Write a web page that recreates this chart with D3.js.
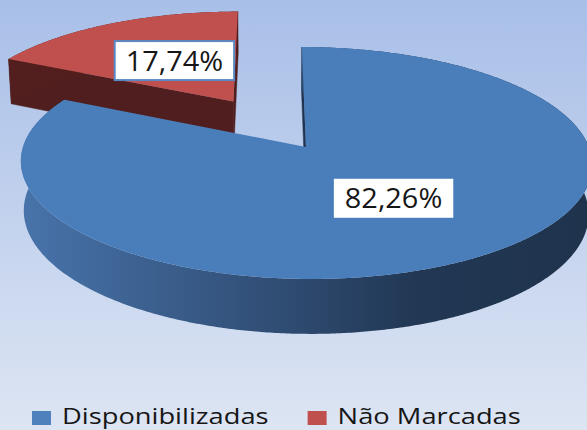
<!DOCTYPE html>
<html>
<head>
<meta charset="utf-8">
<script src="https://cdn.jsdelivr.net/npm/d3@7"></script>
<style>
  body { margin: 0; }
  svg { display: block; }
  text { font-family: "Open Sans", "DejaVu Sans", sans-serif; fill: #161616; }
</style>
</head>
<body>
<script>
const categories = ["Disponibilizadas", "Não Marcadas"];
const values = [82.26, 17.74];
const explode = [0, 0.5];
const topColors = ["#4a7ebb", "#c0504d"];
const legendColors = ["#4f81bd", "#c0504d"];

const W = 587, H = 430;

// simple perspective camera for the 3d pie (radius = 1)
const cam = { cx: 272, cy: 147, f: 1879, D: 6.64, sin: 0.402, cos: 0.916, off: -0.12 };
const thick = 0.191;

function proj(x, z, h) {
  const v = z * cam.sin - h * cam.cos;
  const d = cam.D - z * cam.cos - h * cam.sin;
  return [cam.cx + cam.f * (x - cam.off) / d, cam.cy + cam.f * v / d];
}

const fmt = v => d3.format(".2f")(v).replace(".", ",") + "%";

const svg = d3.select("body").append("svg")
  .attr("width", W)
  .attr("height", H);

const defs = svg.append("defs");
const bg = defs.append("linearGradient").attr("id", "bg")
  .attr("x1", 0).attr("y1", 0).attr("x2", 0).attr("y2", 1);
bg.append("stop").attr("offset", 0).attr("stop-color", "#a8bfe8");
bg.append("stop").attr("offset", 1).attr("stop-color", "#dde5f3");

const wallBlue = defs.append("linearGradient").attr("id", "wall0")
  .attr("gradientUnits", "userSpaceOnUse")
  .attr("x1", 20).attr("y1", 0).attr("x2", 590).attr("y2", 0);
[[0, "#4874ab"], [0.45, "#304d74"], [0.7, "#213753"], [1, "#1f334d"]].forEach(s =>
  wallBlue.append("stop").attr("offset", s[0]).attr("stop-color", s[1]));

const wallRed = defs.append("linearGradient").attr("id", "wall1")
  .attr("gradientUnits", "userSpaceOnUse")
  .attr("x1", 0).attr("y1", 0).attr("x2", 590).attr("y2", 0);
[[0, "#521f1e"], [1, "#4a1b1a"]].forEach(s =>
  wallRed.append("stop").attr("offset", s[0]).attr("stop-color", s[1]));

const faceColors = ["#1f344f", "#501e1e"];

svg.append("rect").attr("width", W).attr("height", H).attr("fill", "url(#bg)");

const arcs = d3.pie().sort(null).value(d => d)(values);
arcs.forEach(a => {
  const mid = (a.startAngle + a.endAngle) / 2;
  a.ox = explode[a.index] * Math.sin(mid);
  a.oz = -explode[a.index] * Math.cos(mid);
  a.mid = mid;
});

const line = d3.line();
const camX = cam.off, camZ = cam.D * cam.cos;

// back slices first
const order = arcs.slice().sort((a, b) => a.oz - b.oz);
const g = svg.append("g");

order.forEach(a => {
  const i = a.index;
  const rim = (t, h) => proj(a.ox + Math.sin(t), a.oz - Math.cos(t), h);
  const apex = h => proj(a.ox, a.oz, h);
  const n = Math.ceil((a.endAngle - a.startAngle) / (Math.PI / 360)) + 1;
  const ts = d3.range(n).map(k => a.startAngle + (a.endAngle - a.startAngle) * k / (n - 1));

  // cut faces
  [[a.startAngle, -1], [a.endAngle, 1]].forEach(([t, s]) => {
    const nx = s * Math.cos(t), nz = s * Math.sin(t);
    if ((camX - a.ox) * nx + (camZ - a.oz) * nz > 0) {
      g.append("path")
        .attr("d", line([apex(0), rim(t, 0), rim(t, -thick), apex(-thick)]) + "Z")
        .attr("fill", faceColors[i])
        .attr("stroke", faceColors[i]).attr("stroke-width", 0.5);
    }
  });

  // outer wall
  const wall = ts.map(t => rim(t, 0)).concat(ts.slice().reverse().map(t => rim(t, -thick)));
  g.append("path")
    .attr("d", line(wall) + "Z")
    .attr("fill", "url(#wall" + i + ")");

  // top
  g.append("path")
    .attr("d", line([apex(0)].concat(ts.map(t => rim(t, 0)))) + "Z")
    .attr("fill", topColors[i]);
});

// data labels (text is a bit stretched sideways in the original)
const labelStretch = 1.07;
arcs.forEach(a => {
  const p = proj(a.ox + 0.5 * Math.sin(a.mid), a.oz - 0.5 * Math.cos(a.mid), 0);
  const x = p[0] + 6, y = p[1];
  const lg = svg.append("g");
  const box = lg.append("rect");
  const t = lg.append("text")
    .attr("text-anchor", "middle")
    .attr("font-size", "27px")
    .attr("transform", "translate(" + x + "," + (y + 10) + ") scale(" + labelStretch + ",1)")
    .text(fmt(a.data));
  const w = t.node().getComputedTextLength() * labelStretch + 22;
  box.attr("x", x - w / 2).attr("y", y - 19.5)
    .attr("width", w).attr("height", 39)
    .attr("fill", "#fff")
    .attr("stroke", a.index === 1 ? "#5a88c2" : "none")
    .attr("stroke-width", 2);
});

// legend
const legendStretch = 1.3;
let lx = 32;
categories.forEach((c, i) => {
  svg.append("rect")
    .attr("x", lx).attr("y", 411)
    .attr("width", 19).attr("height", 14)
    .attr("fill", legendColors[i]);
  const t = svg.append("text")
    .attr("transform", "translate(" + (lx + 30) + ",424) scale(" + legendStretch + ",1)")
    .attr("font-size", "21px")
    .text(c);
  lx += 30 + t.node().getComputedTextLength() * legendStretch + 39;
});
</script>
</body>
</html>
